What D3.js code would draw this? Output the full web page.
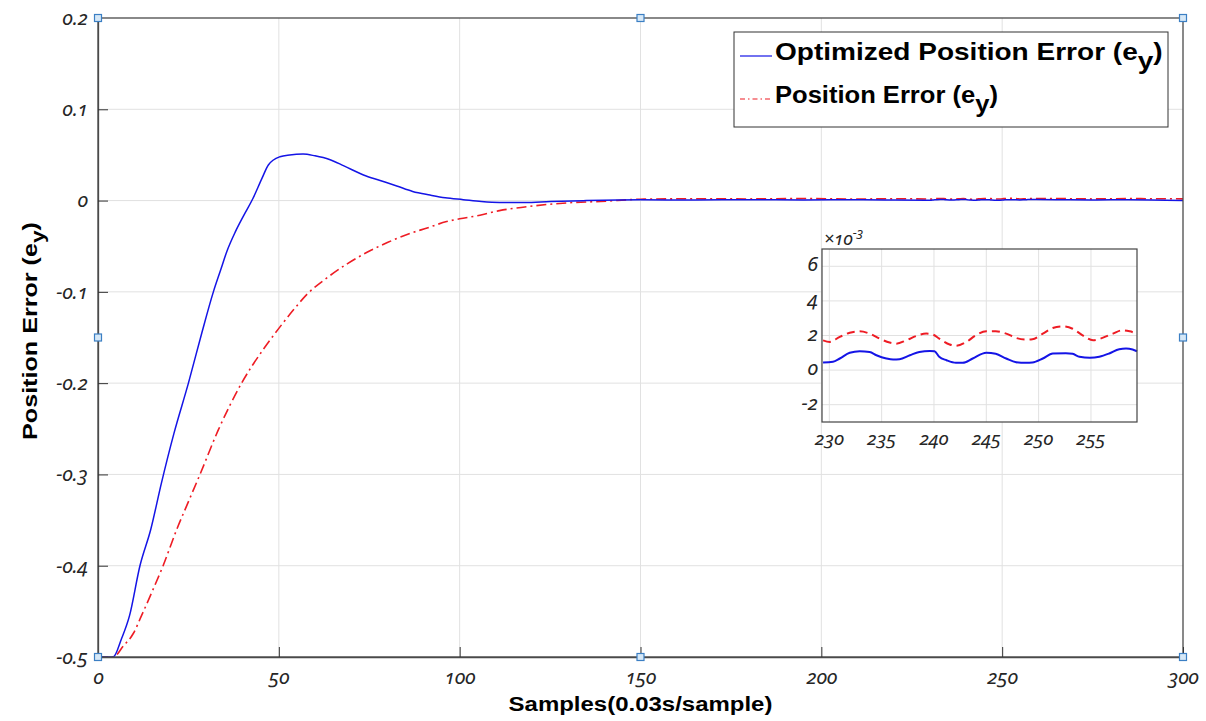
<!DOCTYPE html>
<html lang="en">
<head>
<meta charset="UTF-8">
<title>Position Error</title>
<script src="https://d3js.org/d3.v7.min.js"></script>
<style>
  body { margin: 0; background: #fff; }
  .tick-lbl { font-family: "Noto Sans", sans-serif; font-style: italic; font-feature-settings: "onum"; fill: #262626; }
  .bold-lbl { font-family: "Liberation Sans", Arial, sans-serif; font-weight: bold; fill: #000; }
</style>
</head>
<body>
<div id="chart"></div>
<script>
// ---- data ----
var xTicks = [0, 50, 100, 150, 200, 250, 300];
var yTicks = [0.2, 0.1, 0, -0.1, -0.2, -0.3, -0.4, -0.5];
var yTickLabels = ["0.2", "0.1", "0", "-0.1", "-0.2", "-0.3", "-0.4", "-0.5"];

// optimized error (blue), samples 0..229
var blueHead = [[0,-0.5],[4.2,-0.5],[6.5,-0.48],[8.7,-0.455],[11.6,-0.4],[14.6,-0.36],[17.5,-0.31],
  [21,-0.255],[25,-0.2],[28.7,-0.145],[31.9,-0.1],[34,-0.075],[35.6,-0.056],[38,-0.034],[40.2,-0.017],
  [42.8,0.002],[45.3,0.024],[47.1,0.039],[50.3,0.048],[53,0.05],[56.7,0.051],[60,0.049],[64,0.045],
  [68,0.038],[73.4,0.028],[78,0.022],[82.6,0.016],[87,0.01],[91.8,0.006],[96,0.003],[101,0.001],
  [106,-0.001],[111,-0.002],[118,-0.002],[125,-0.001],[135,0],[150,0.0008],[165,0.0006],
  [180,0.001],[195,0.0007],[210,0.0009],[220,0.0006]];
var blueTail = [[265,0.0009],[275,0.0007],[285,0.001],[300,0.0002]];

// position error (red), samples 0..229
var redHead = [[0,-0.5],[4.2,-0.5],[7,-0.488],[9.8,-0.474],[12,-0.455],[15,-0.428],[18,-0.4],
  [21.7,-0.361],[25.2,-0.328],[28.2,-0.3],[33.3,-0.251],[39.7,-0.2],[45.7,-0.163],[50,-0.14],
  [54,-0.12],[57.7,-0.103],[63.2,-0.085],[69,-0.069],[75.2,-0.055],[80,-0.046],[86.3,-0.036],[91,-0.03],
  [96.4,-0.023],[100,-0.02],[105.6,-0.016],[111,-0.011],[118,-0.007],[125,-0.004],[132,-0.002],
  [139,-0.001],[150,0.0015],[165,0.002],[180,0.0018],[195,0.0022],[210,0.0017],[220,0.002]];
var redTail = [[265,0.0022],[275,0.0018],[285,0.0021],[300,0.0019]];

// zoomed window, values in units of 1e-3
var insetXTicks = [230, 235, 240, 245, 250, 255];
var insetYTicks = [6, 4, 2, 0, -2];
var insetBlue = [[229.4,0.44],[230.35,0.48],[231,0.67],[231.95,1.0],[232.9,1.09],[233.85,1.05],
  [234.5,0.86],[235.45,0.67],[236.1,0.61],[236.7,0.63],[237.7,0.86],[238.6,1.05],[239.6,1.11],
  [240.05,1.09],[240.5,0.77],[241.2,0.57],[242.1,0.42],[242.75,0.42],[243.7,0.67],[245,1.0],
  [245.9,0.94],[246.9,0.67],[247.85,0.46],[248.8,0.42],[249.4,0.44],[250.4,0.67],[251.35,0.96],
  [252.6,0.98],[253.25,0.94],[253.9,0.77],[254.9,0.71],[255.8,0.77],[256.75,0.96],[257.7,1.21],
  [258.35,1.25],[258.98,1.19],[259.4,1.09]];
var insetRed = [[229.4,1.72],[230.04,1.63],[231,1.92],[231.95,2.16],[232.9,2.24],[233.85,2.11],
  [234.8,1.82],[235.76,1.59],[236.4,1.53],[237.36,1.72],[238.3,1.97],[239.27,2.11],[239.9,2.05],
  [240.5,1.82],[241.5,1.48],[242.1,1.4],[243.1,1.63],[244,2.01],[245,2.24],[245.9,2.24],
  [246.9,2.11],[247.85,1.86],[248.8,1.76],[249.4,1.78],[250.4,2.11],[251.35,2.43],[252.3,2.53],
  [253.25,2.39],[254.2,2.01],[255.2,1.72],[256.1,1.86],[257.1,2.11],[258,2.3],[258.7,2.24],[259.4,2.11]];

var legendNames = ["Optimized Position Error (e", "Position Error (e"];
var blueCol = "#1414e6", redCol = "#ee1c24";

// ---- layout ----
var W = 1206, H = 721;
var svg = d3.select("#chart").append("svg").attr("width", W).attr("height", H);

var x = d3.scaleLinear().domain([0, 300]).range([98, 1183]);
var y = d3.scaleLinear().domain([-0.5, 0.2]).range([657, 18]);

// the reference font is a bit wider than Liberation Sans, stretch text to width
function stretch(sel, tx, ty, rot, target) {
  var w = sel.node().getBBox().width;
  sel.attr("transform", "translate(" + tx + "," + ty + ")" + (rot ? " rotate(" + rot + ")" : "") +
    " scale(" + (target / w) + ",1)");
}

// grid
svg.append("g").selectAll("line").data(xTicks.slice(1, -1)).enter().append("line")
  .attr("x1", function(d) { return x(d); }).attr("x2", function(d) { return x(d); })
  .attr("y1", y(0.2)).attr("y2", y(-0.5)).attr("stroke", "#e1e1e1");
svg.append("g").selectAll("line").data(yTicks.slice(1, -1)).enter().append("line")
  .attr("x1", x(0)).attr("x2", x(300))
  .attr("y1", function(d) { return y(d); }).attr("y2", function(d) { return y(d); }).attr("stroke", "#e1e1e1");

// series
var blueAll = blueHead.concat(insetBlue.map(function(p) { return [p[0], p[1] / 1000]; }), blueTail);
var redAll = redHead.concat(insetRed.map(function(p) { return [p[0], p[1] / 1000]; }), redTail);
var line = d3.line().x(function(d) { return x(d[0]); }).y(function(d) { return y(d[1]); }).curve(d3.curveMonotoneX);

svg.append("path").datum(redAll).attr("d", line).attr("fill", "none")
  .attr("stroke", redCol).attr("stroke-width", 1.6).attr("stroke-dasharray", "10,4,2,4");
svg.append("path").datum(blueAll).attr("d", line).attr("fill", "none")
  .attr("stroke", blueCol).attr("stroke-width", 1.5);

// frame + axes
svg.append("rect").attr("x", x(0)).attr("y", y(0.2)).attr("width", x(300) - x(0)).attr("height", y(-0.5) - y(0.2))
  .attr("fill", "none").attr("stroke", "#4a4a4a").attr("stroke-width", 1.3);

var xAxis = svg.append("g").attr("transform", "translate(0," + y(-0.5) + ")")
  .call(d3.axisBottom(x).tickValues(xTicks).tickSizeInner(-10).tickSizeOuter(0).tickPadding(13).tickFormat(d3.format("d")));
var yAxis = svg.append("g").attr("transform", "translate(" + x(0) + ",0)")
  .call(d3.axisLeft(y).tickValues(yTicks).tickSizeInner(-10).tickSizeOuter(0).tickPadding(10)
    .tickFormat(function(d, i) { return yTickLabels[i]; }));
[xAxis, yAxis].forEach(function(a) {
  a.select(".domain").attr("stroke", "#4a4a4a").attr("stroke-width", 1.3);
  a.selectAll(".tick line").attr("stroke", "#333");
  a.selectAll(".tick text").attr("class", "tick-lbl").attr("font-size", 20).attr("fill", null);
});
yAxis.selectAll(".tick").filter(function(d) { return d === 0.2 || d === -0.5; }).select("line").remove();

// axis titles
var xt = svg.append("text").attr("class", "bold-lbl").attr("text-anchor", "middle").attr("font-size", 21)
  .text("Samples(0.03s/sample)");
stretch(xt, x(150), 711, 0, 264);
var yt = svg.append("text").attr("class", "bold-lbl").attr("text-anchor", "middle").attr("font-size", 21);
yt.append("tspan").text("Position Error (e");
yt.append("tspan").attr("dy", 7).attr("font-size", 19).text("y");
yt.append("tspan").attr("dy", -7).text(")");
stretch(yt, 37, 331, -90, 218);

// legend
var lg = svg.append("g");
lg.append("rect").attr("x", 734).attr("y", 32).attr("width", 434).attr("height", 95)
  .attr("fill", "#fff").attr("stroke", "#333").attr("stroke-width", 1);
legendNames.forEach(function(name, i) {
  var by = 60 + i * 43;
  lg.append("line").attr("x1", 740).attr("x2", 772).attr("y1", by - 4).attr("y2", by - 4)
    .attr("stroke", i === 0 ? blueCol : redCol).attr("stroke-width", 1.2)
    .attr("stroke-dasharray", i === 0 ? null : "5,3,1.5,3");
  var t = lg.append("text").attr("class", "bold-lbl").attr("font-size", 24);
  t.append("tspan").text(name);
  t.append("tspan").attr("dy", 9).text("y");
  t.append("tspan").attr("dy", -9).text(")");
  stretch(t, 775, by, 0, i === 0 ? 388 : 223);
});

// inset
var ix = d3.scaleLinear().domain([229.3, 259.4]).range([822, 1137]);
var iy = d3.scaleLinear().domain([-3, 7]).range([422, 249]);
var ins = svg.append("g");
ins.append("rect").attr("x", 822).attr("y", 249).attr("width", 315).attr("height", 173).attr("fill", "#fff");
ins.append("g").selectAll("line").data(insetXTicks).enter().append("line")
  .attr("x1", function(d) { return ix(d); }).attr("x2", function(d) { return ix(d); })
  .attr("y1", 249).attr("y2", 422).attr("stroke", "#e1e1e1");
ins.append("g").selectAll("line").data(insetYTicks).enter().append("line")
  .attr("x1", 822).attr("x2", 1137)
  .attr("y1", function(d) { return iy(d); }).attr("y2", function(d) { return iy(d); }).attr("stroke", "#e1e1e1");
var iline = d3.line().x(function(d) { return ix(d[0]); }).y(function(d) { return iy(d[1]); }).curve(d3.curveMonotoneX);
ins.append("path").datum(insetRed).attr("d", iline).attr("fill", "none")
  .attr("stroke", redCol).attr("stroke-width", 2).attr("stroke-dasharray", "8,5");
ins.append("path").datum(insetBlue).attr("d", iline).attr("fill", "none")
  .attr("stroke", blueCol).attr("stroke-width", 2);
ins.append("rect").attr("x", 822).attr("y", 249).attr("width", 315).attr("height", 173)
  .attr("fill", "none").attr("stroke", "#444").attr("stroke-width", 1.2);
ins.append("g").selectAll("text").data(insetXTicks).enter().append("text")
  .attr("class", "tick-lbl").attr("font-size", 19).attr("text-anchor", "middle")
  .attr("x", function(d) { return ix(d); }).attr("y", 445).text(function(d) { return d; });
ins.append("g").selectAll("text").data(insetYTicks).enter().append("text")
  .attr("class", "tick-lbl").attr("font-size", 20).attr("text-anchor", "end")
  .attr("x", 818).attr("y", function(d) { return iy(d) + 5; }).text(function(d) { return d; });
var sc = ins.append("text").attr("class", "tick-lbl").attr("font-size", 18).attr("x", 824).attr("y", 245);
sc.append("tspan").text("\u00d710");
sc.append("tspan").attr("dy", -8).attr("font-size", 13).text("-3");

// selection handles
var handles = [[0, 0.2], [150, 0.2], [300, 0.2], [0, -0.15], [300, -0.15], [0, -0.5], [150, -0.5], [300, -0.5]];
svg.append("g").selectAll("rect").data(handles).enter().append("rect")
  .attr("x", function(d) { return x(d[0]) - 3.5; }).attr("y", function(d) { return y(d[1]) - 3.5; })
  .attr("width", 7).attr("height", 7).attr("fill", "#d6e8f7").attr("stroke", "#3b7fc4").attr("stroke-width", 1.2);
</script>
</body>
</html>
